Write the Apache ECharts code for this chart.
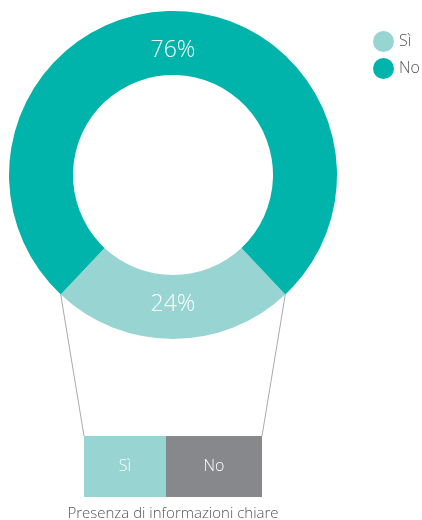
<!DOCTYPE html>
<html>
<head>
<meta charset="utf-8">
<script src="https://cdn.jsdelivr.net/npm/echarts@6/dist/echarts.min.js"></script>
<style>
  html, body { margin: 0; padding: 0; background: #fff; }
  #main { width: 422px; height: 520px; }
</style>
</head>
<body>
<div id="main"></div>
<script>
// dati
var pieNames = ['Sì', 'No'];
var pieValues = [24, 76];
var barCategory = ['Presenza di informazioni chiare'];
var barNames = ['Sì', 'No'];
var barValues = [46, 54];

var colLight = '#98d4d2';
var colDark = '#00b4ab';
var colGray = '#86888b';
var font = '"Open Sans", "Noto Sans", sans-serif';

var myChart = echarts.init(document.getElementById('main'));

var cx = 173, cy = 175, rIn = 100, rOut = 164;
var sliceAngle = pieValues[0] / (pieValues[0] + pieValues[1]) * 360;
var startAngle = 270 + sliceAngle / 2;

var option = {
    animation: false,
    textStyle: { fontFamily: font },
    legend: {
        orient: 'vertical',
        left: 368,
        top: 26,
        icon: 'circle',
        itemWidth: 21,
        itemHeight: 21,
        itemGap: 6,
        data: pieNames,
        textStyle: { fontSize: 16, color: '#555', fontFamily: font, fontWeight: 300 }
    },
    grid: {
        left: 84,
        width: 178,
        top: 436,
        height: 61,
        outerBoundsMode: 'none'
    },
    xAxis: {
        type: 'value',
        min: 0,
        max: 100,
        show: true,
        axisLine: { show: false },
        axisTick: { show: false },
        axisLabel: { show: false },
        splitLine: { show: false },
        name: barCategory[0],
        nameLocation: 'middle',
        nameGap: 9,
        nameTextStyle: { fontSize: 15, color: '#555', fontFamily: font, fontWeight: 300 }
    },
    yAxis: {
        type: 'category',
        data: barCategory,
        show: false
    },
    series: [
        {
            name: 'torta',
            type: 'pie',
            center: [cx, cy],
            radius: [rIn, rOut],
            startAngle: startAngle,
            clockwise: true,
            label: {
                show: true,
                position: 'inside',
                formatter: '{c}%',
                color: '#fff',
                fontSize: 23,
                fontWeight: 300,
                fontFamily: font
            },
            labelLine: { show: false },
            emphasis: { disabled: true },
            data: pieNames.map(function (n, i) {
                return {
                    name: n,
                    value: pieValues[i],
                    itemStyle: { color: i === 0 ? colLight : colDark },
                    label: { offset: i === 0 ? [0, -6] : [0, 10] }
                };
            })
        },
        {
            name: 'bar_' + barNames[0],
            type: 'bar',
            stack: 'tot',
            barWidth: 61,
            data: [barValues[0]],
            itemStyle: { color: colLight },
            label: { show: true, position: 'inside', formatter: barNames[0], color: '#fff', fontSize: 16, fontWeight: 300, fontFamily: font }
        },
        {
            name: 'bar_' + barNames[1],
            type: 'bar',
            stack: 'tot',
            barWidth: 61,
            data: [barValues[1]],
            itemStyle: { color: colGray },
            label: { show: true, position: 'inside', formatter: barNames[1], color: '#fff', fontSize: 16, fontWeight: 300, fontFamily: font }
        }
    ]
};

myChart.setOption(option);

// linee di collegamento dalla fetta al bar
var a1 = (270 - sliceAngle / 2) * Math.PI / 180;
var a2 = (270 + sliceAngle / 2) * Math.PI / 180;
var p1 = [cx + rOut * Math.cos(a1), cy - rOut * Math.sin(a1)];
var p2 = [cx + rOut * Math.cos(a2), cy - rOut * Math.sin(a2)];
var b0 = myChart.convertToPixel({ xAxisIndex: 0 }, 0);
var b1 = myChart.convertToPixel({ xAxisIndex: 0 }, 100);
var barTop = option.grid.top;

myChart.setOption({
    graphic: [
        { type: 'line', z: -1, shape: { x1: p1[0], y1: p1[1], x2: b0, y2: barTop }, style: { stroke: '#aaa', lineWidth: 1 } },
        { type: 'line', z: -1, shape: { x1: p2[0], y1: p2[1], x2: b1, y2: barTop }, style: { stroke: '#aaa', lineWidth: 1 } }
    ]
});
</script>
</body>
</html>
